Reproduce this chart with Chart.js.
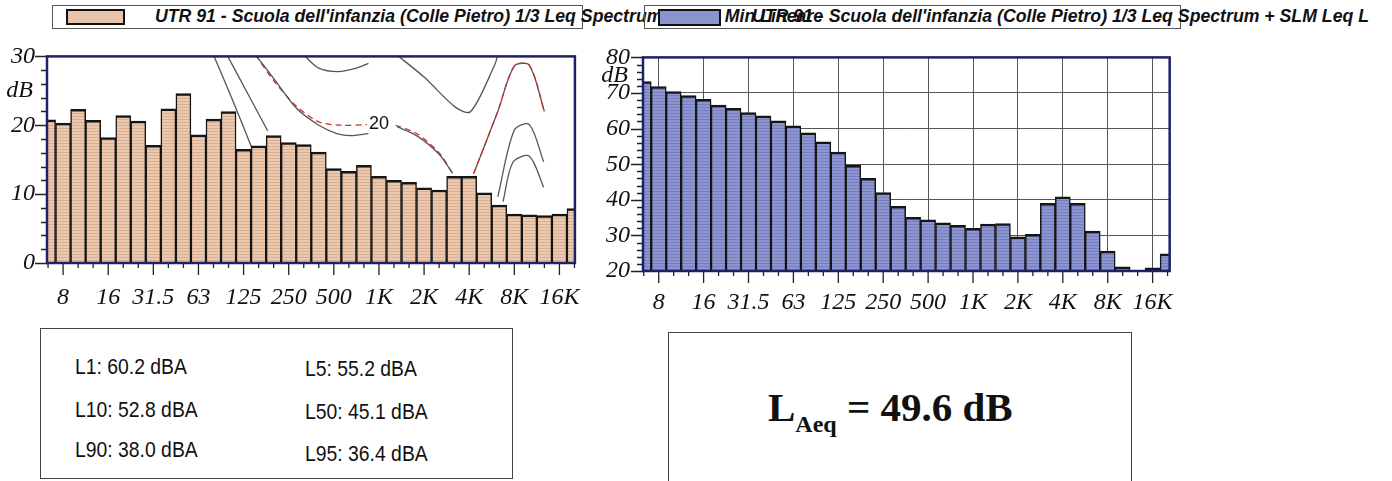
<!DOCTYPE html>
<html>
<head>
<meta charset="utf-8">
<script src="https://cdn.jsdelivr.net/npm/chart.js@4.4.1/dist/chart.umd.min.js"></script>
<style>
body { margin:0; width:1392px; height:481px; background:#fff; position:relative; overflow:hidden; font-family:"Liberation Sans", Arial, sans-serif; }
canvas { position:absolute; }
.leg { position:absolute; border:1px solid #555; box-sizing:border-box; height:24px; }
.sw { position:absolute; border:2px solid #111; box-sizing:border-box; }
.lt { position:absolute; font:italic bold 17.7px "Liberation Sans", Arial, sans-serif; white-space:nowrap; color:#111; }
.box { position:absolute; border:1px solid #444; box-sizing:border-box; }
.st { position:absolute; font-size:22px; color:#111; white-space:nowrap; transform:scaleX(0.88); transform-origin:left top; }
.laeq { position:absolute; font:bold 41px "Liberation Serif", "Times New Roman", serif; color:#111; white-space:nowrap; }
.laeq sub { font-size:24px; vertical-align:-11px; }
</style>
</head>
<body>

<div class="leg" style="left:52px;top:5px;width:531px"></div>
<div class="sw" style="left:66px;top:9px;width:59px;height:16px;background:#e8c4aa"></div>
<div class="lt" style="left:155px;top:6px">UTR 91 - Scuola dell'infanzia (Colle Pietro) 1/3 Leq Spectrum + SLM Min Lineare</div>

<div class="leg" style="left:644px;top:5px;width:537px"></div>
<div class="sw" style="left:658px;top:9px;width:63px;height:17px;background:#8b93cf"></div>
<div class="lt" style="left:752px;top:6px">UTR 91 - Scuola dell'infanzia (Colle Pietro) 1/3 Leq Spectrum + SLM Leq L</div>

<canvas id="minChart" width="600" height="290" style="left:0;top:30px"></canvas>
<canvas id="leqChart" width="600" height="290" style="left:590px;top:30px"></canvas>

<div class="box" style="left:40px;top:328px;width:473px;height:151px"></div>
<div class="st" style="left:75px;top:354px">L1: 60.2 dBA</div>
<div class="st" style="left:305px;top:356px">L5: 55.2 dBA</div>
<div class="st" style="left:75px;top:397px">L10: 52.8 dBA</div>
<div class="st" style="left:305px;top:399px">L50: 45.1 dBA</div>
<div class="st" style="left:75px;top:437px">L90: 38.0 dBA</div>
<div class="st" style="left:305px;top:441px">L95: 36.4 dBA</div>

<div class="box" style="left:668px;top:332px;width:464px;height:150px"></div>
<div class="laeq" style="left:768px;top:383px">L<sub>Aeq</sub> = 49.6 dB</div>

<script>
// 1/3 octave bands, 6.3 Hz .. 20 kHz
var bands = ['6.3','8','10','12.5','16','20','25','31.5','40','50','63','80','100','125','160','200',
  '250','315','400','500','630','800','1K','1.25K','1.6K','2K','2.5K','3.15K','4K','5K','6.3K',
  '8K','10K','12.5K','16K','20K'];
var tickBands = ['8','16','31.5','63','125','250','500','1K','2K','4K','8K','16K'];

// left chart: min spectrum (dB)
var minValues = [20.8, 20.3, 22.3, 20.7, 18.2, 21.4, 20.6, 17.1, 22.4, 24.6, 18.6, 20.9, 22.0, 16.5,
  17.0, 18.5, 17.5, 17.2, 16.1, 13.7, 13.3, 14.2, 12.6, 12.0, 11.7, 10.9, 10.6, 12.6, 12.6, 10.2,
  8.4, 7.1, 7.0, 6.9, 7.1, 7.9];

// right chart: leq spectrum (dB)
var leqValues = [73.2, 71.8, 70.4, 69.3, 68.2, 66.6, 65.7, 64.5, 63.6, 62.2, 60.8, 58.8, 56.3, 53.4,
  49.7, 46.0, 42.0, 38.2, 35.1, 34.4, 33.5, 32.8, 32.0, 33.2, 33.3, 29.6, 30.3, 39.0, 40.8, 39.0,
  31.2, 25.6, 21.2, 19.4, 20.9, 24.8];

// isophonic curves on the left chart, [band index, dB]
var curveA = [[11.0, 30.2], [12.3, 23.5], [13.55, 16.7]];
var curveB = [[11.9, 30.2], [13.3, 24.5], [14.6, 19.2]];
var curve20Red = [[13.8, 30.2], [15.0, 26.5], [16.5, 22.8], [18.0, 20.5], [19.5, 20.0], [21.2, 20.1]];
var curve20RedB = [[23.1, 20.0], [24.5, 18.8], [26.0, 16.0], [26.9, 13.0]];
var curve20RedC = [[28.3, 13.0], [29.9, 22.0], [31.0, 28.6], [32.0, 28.7], [33.0, 22.0]];
var curve20 = [[13.8, 30.2], [15.0, 26.8], [16.5, 22.5], [18.0, 20.0], [19.2, 18.8], [20.1, 18.5], [21.3, 18.8]];
var curve20B = [[23.2, 19.8], [24.5, 18.5], [26.0, 15.8], [26.9, 13.0]];
var curveTop = [[17.0, 30.2], [18.0, 28.3], [19.3, 27.8], [20.5, 28.3], [21.3, 29.0]];
var curveV = [[23.2, 30.2], [25.0, 27.0], [27.1, 22.6], [28.1, 22.0], [29.7, 28.8], [29.9, 30.2]];
var curveLowA = [[29.9, 9.6], [31.0, 19.3], [32.0, 20.1], [32.95, 14.7]];
var curveLowB = [[30.25, 8.9], [30.9, 14.6], [32.0, 15.5], [32.95, 11.0]];

function stripes(ctx, base, line) {
  var c = document.createElement('canvas');
  c.width = 4; c.height = 3;
  var g = c.getContext('2d');
  g.fillStyle = base; g.fillRect(0, 0, 4, 3);
  g.fillStyle = line; g.fillRect(0, 2, 4, 1);
  return ctx.createPattern(c, 'repeat');
}

function pts(arr) {
  return arr.map(function (p) { return {x: p[0], y: p[1]}; });
}

function curve(arr, color, dash) {
  return {
    type: 'line', data: pts(arr), borderColor: color, borderWidth: 1.3,
    borderDash: dash || [], pointRadius: 0, tension: 0.3, fill: false, clip: 0, order: 2
  };
}

// tick marks, plot frame, "dB" and curve label
var frame = {
  id: 'frame',
  afterDatasetsDraw: function (chart, args, opts) {
    var ctx = chart.ctx, a = chart.chartArea, x = chart.scales.x, y = chart.scales.y;
    ctx.save();
    ctx.strokeStyle = '#222';
    ctx.lineWidth = 1.3;
    ctx.beginPath();
    for (var v = y.min; v <= y.max; v += 2) {
      var py = Math.round(y.getPixelForValue(v)) + 0.5;
      var len = v % 10 === 0 ? 12 : 6;
      ctx.moveTo(a.left - len, py); ctx.lineTo(a.left, py);
    }
    for (var i = 0; i < bands.length; i++) {
      var px = x.getPixelForValue(i);
      if (px < a.left || px > a.right) continue;
      var tl = i % 3 === 1 ? 12 : 5;
      ctx.moveTo(px, a.bottom); ctx.lineTo(px, a.bottom + tl);
    }
    ctx.stroke();
    ctx.strokeStyle = '#1c2266';
    ctx.lineWidth = 2.5;
    ctx.strokeRect(a.left, a.top, a.right - a.left, a.bottom - a.top);
    ctx.fillStyle = '#111';
    ctx.font = 'italic 24px "Liberation Serif"';
    ctx.textAlign = 'right';
    ctx.textBaseline = 'middle';
    ctx.fillText('dB', a.left - opts.dbGap, y.getPixelForValue(opts.dbAt));
    if (opts.label) {
      ctx.font = '18px "Liberation Sans"';
      ctx.textAlign = 'center';
      ctx.fillText(opts.label.text, x.getPixelForValue(opts.label.x), y.getPixelForValue(opts.label.y));
    }
    ctx.restore();
  }
};

function makeChart(id, values, fill, cfg) {
  var canvas = document.getElementById(id);
  var ctx = canvas.getContext('2d');
  var datasets = [{
    type: 'bar',
    data: values.map(function (v, i) { return {x: i, y: v}; }),
    backgroundColor: stripes(ctx, fill[0], fill[1]),
    borderColor: '#151515',
    borderWidth: {top: 2.5, left: 1.5, right: 1.5, bottom: 0},
    barPercentage: 1,
    categoryPercentage: 1,
    clip: 0,
    order: 1
  }].concat(cfg.curves || []);

  return new Chart(ctx, {
    type: 'bar',
    data: {datasets: datasets},
    options: {
      responsive: false,
      animation: false,
      events: [],
      layout: {padding: {top: cfg.padTop, right: cfg.padRight, left: 0, bottom: 0}},
      plugins: {
        legend: {display: false},
        tooltip: {enabled: false},
        frame: {dbAt: cfg.dbAt, dbGap: cfg.dbGap, label: cfg.label}
      },
      scales: {
        x: {
          type: 'linear', min: cfg.xMin, max: cfg.xMax, offset: false,
          afterBuildTicks: function (scale) {
            scale.ticks = tickBands.map(function (b) { return {value: bands.indexOf(b)}; });
          },
          afterFit: function (scale) { scale.height = cfg.xHeight; },
          ticks: {
            autoSkip: false, maxRotation: 0, padding: cfg.xPad, color: '#111',
            font: {family: 'Liberation Serif', style: 'italic', size: 24},
            callback: function (v) { return bands[v]; }
          },
          grid: {display: cfg.grid, offset: false, drawTicks: false, color: '#555', lineWidth: 1},
          border: {display: false}
        },
        y: {
          min: cfg.yMin, max: cfg.yMax,
          afterFit: function (scale) { scale.width = cfg.yWidth; },
          ticks: {
            stepSize: 10, padding: cfg.yPad, color: '#111',
            font: {family: 'Liberation Serif', style: 'italic', size: 24}
          },
          grid: {display: cfg.grid, drawTicks: false, color: '#555', lineWidth: 1},
          border: {display: false}
        }
      }
    },
    plugins: [frame]
  });
}

makeChart('minChart', minValues, ['#ebc8ae', '#d9b093'], {
  xMin: -0.07, xMax: 35.03, yMin: 0, yMax: 30,
  padTop: 15, padRight: 19, xHeight: 57, yWidth: 47, xPad: 20, yPad: 12,
  dbAt: 25, dbGap: 14, grid: false,
  label: {text: '20', x: 22.0, y: 20.2},
  curves: [
    curve(curveA, '#555'), curve(curveB, '#555'),
    curve(curve20, '#555'), curve(curve20B, '#555'),
    curve(curve20Red, '#d42a2a', [6, 4]), curve(curve20RedB, '#d42a2a', [6, 4]),
    curve(curve20RedC, '#d42a2a', [6, 4]), curve(curve20RedC, '#555'),
    curve(curveTop, '#555'), curve(curveV, '#555'),
    curve(curveLowA, '#555'), curve(curveLowB, '#555')
  ]
});

makeChart('leqChart', leqValues, ['#8d95d1', '#767fc2'], {
  xMin: -0.05, xMax: 35.14, yMin: 20, yMax: 80,
  padTop: 22, padRight: 12, xHeight: 49, yWidth: 53, xPad: 17, yPad: 13,
  dbAt: 75, dbGap: 15, grid: true
});
</script>
</body>
</html>
